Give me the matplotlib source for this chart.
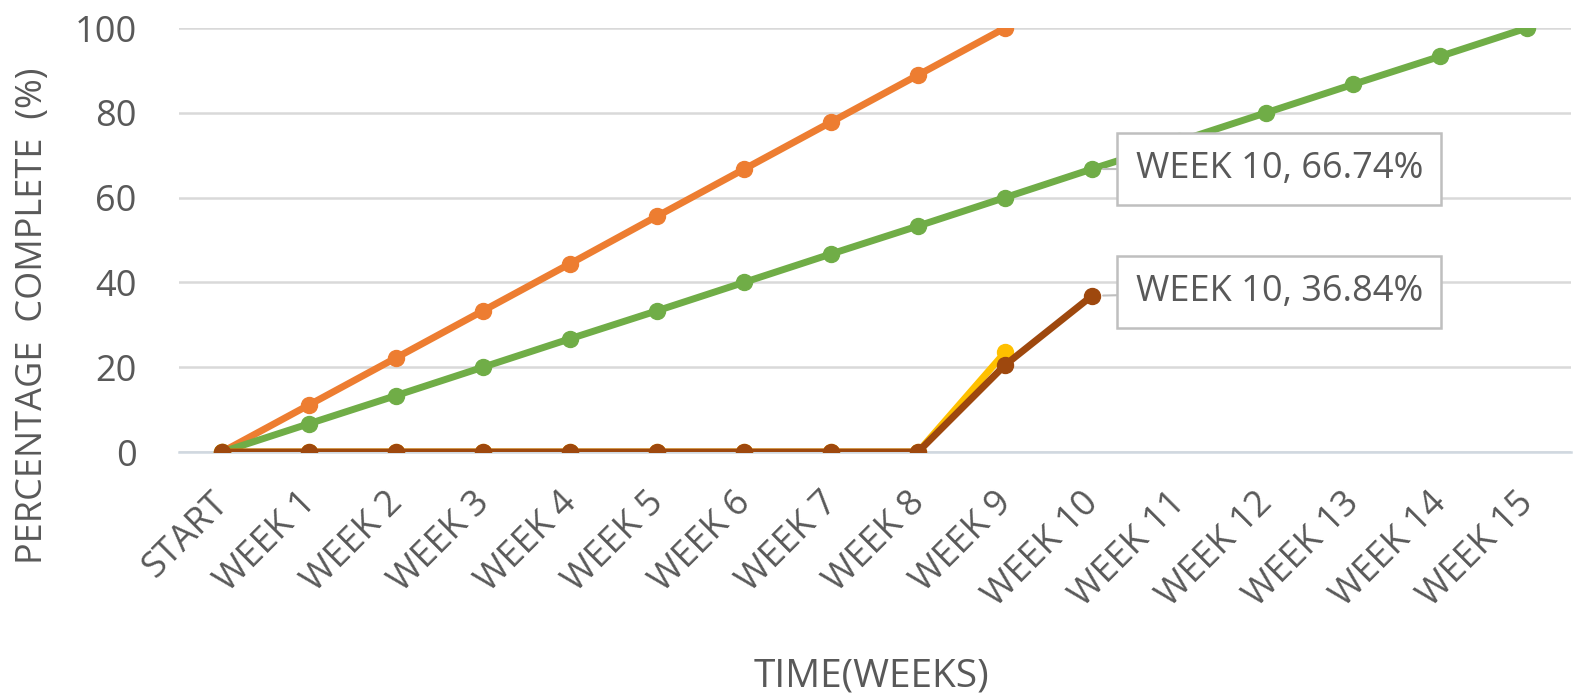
import matplotlib
matplotlib.use("Agg")
import matplotlib.pyplot as plt
import matplotlib.transforms as mtransforms

categories = ["START", "WEEK 1", "WEEK 2", "WEEK 3", "WEEK 4", "WEEK 5", "WEEK 6",
              "WEEK 7", "WEEK 8", "WEEK 9", "WEEK 10", "WEEK 11", "WEEK 12",
              "WEEK 13", "WEEK 14", "WEEK 15"]
orange_vals = [0, 11.1, 22.2, 33.3, 44.4, 55.6, 66.7, 77.8, 88.9, 100]
green_vals = [0, 6.67, 13.3, 20.0, 26.7, 33.3, 40.0, 46.7, 53.3, 60.0, 66.74,
              73.3, 80.0, 86.7, 93.3, 100]
yellow_vals = [0, 0, 0, 0, 0, 0, 0, 0, 0, 23.5]
brown_vals = [0, 0, 0, 0, 0, 0, 0, 0, 0, 20.5, 36.84]
yticks = [0, 20, 40, 60, 80, 100]
label_green = "WEEK 10, 66.74%"
label_brown = "WEEK 10, 36.84%"

plt.rcParams['font.family'] = ['Open Sans', 'DejaVu Sans']
grey = "#595959"

fig = plt.figure(figsize=(15.73, 6.97), dpi=100)
W, H = 1573, 697
ax = fig.add_axes([178.5 / W, 1 - 452 / H, (1570.5 - 178.5) / W, (452 - 28) / H])

x = list(range(len(categories)))
lw = 5.0
ms = 11.5
ax.plot(x[:len(orange_vals)], orange_vals, color="#ED7D31", lw=lw, marker="o", ms=ms, zorder=3,
        solid_capstyle="round")
ax.plot(x[:len(green_vals)], green_vals, color="#70AD47", lw=lw, marker="o", ms=ms, zorder=4,
        solid_capstyle="round")
ax.plot(x[:len(yellow_vals)], yellow_vals, color="#FFC000", lw=lw, marker="o", ms=ms, zorder=5,
        solid_capstyle="round")
ax.plot(x[:len(brown_vals)], brown_vals, color="#9E480E", lw=lw, marker="o", ms=ms, zorder=6,
        solid_capstyle="round")

ax.set_xlim(-0.5, len(categories) - 0.5)
ax.set_ylim(0, 100)
ax.set_yticks(yticks)
ax.set_yticklabels([str(v) for v in yticks])
ax.set_xticks(x)
ax.set_xticklabels(categories, rotation=45, ha="right", va="top")
ax.tick_params(axis="both", length=0, colors=grey, labelsize=26)
ax.tick_params(axis="y", pad=30)
ax.tick_params(axis="x", pad=24)
offset = mtransforms.ScaledTranslation(14 / 100, 0, fig.dpi_scale_trans)
for lab in ax.get_xticklabels():
    lab.set_transform(lab.get_transform() + offset)
ax.grid(axis="y", color="#D9D9D9", lw=1.8, zorder=0)
ax.set_axisbelow(True)
for s in ["top", "right", "left"]:
    ax.spines[s].set_visible(False)
ax.spines["bottom"].set_color("#D0D8E0")
ax.spines["bottom"].set_linewidth(1.8)
ax.spines["bottom"].set_zorder(1)

fig.text(33 / W, 1 - 316 / H, "PERCENTAGE  COMPLETE  (%)", rotation=90, ha="center",
         va="center", fontsize=26, color=grey)
fig.text(872 / W, 1 - 676 / H, "TIME(WEEKS)", ha="center", va="center", fontsize=28, color=grey)

box = dict(boxstyle="square,pad=0.5", fc="white", ec="#BFBFBF", lw=1.8)
ax.annotate(label_green, xy=(10, green_vals[10]), xytext=(10.5, green_vals[10]),
            fontsize=26, color=grey, ha="left", va="center", bbox=box, zorder=10,
            arrowprops=dict(arrowstyle="-", color="#BFBFBF", lw=1.5, shrinkA=0, shrinkB=8))
ax.annotate(label_brown, xy=(10, brown_vals[10]), xytext=(10.5, brown_vals[10] + 1),
            fontsize=26, color=grey, ha="left", va="center", bbox=box, zorder=10,
            arrowprops=dict(arrowstyle="-", color="#BFBFBF", lw=1.5, shrinkA=0, shrinkB=8))

fig.savefig("out.png", dpi=100, facecolor="white")
